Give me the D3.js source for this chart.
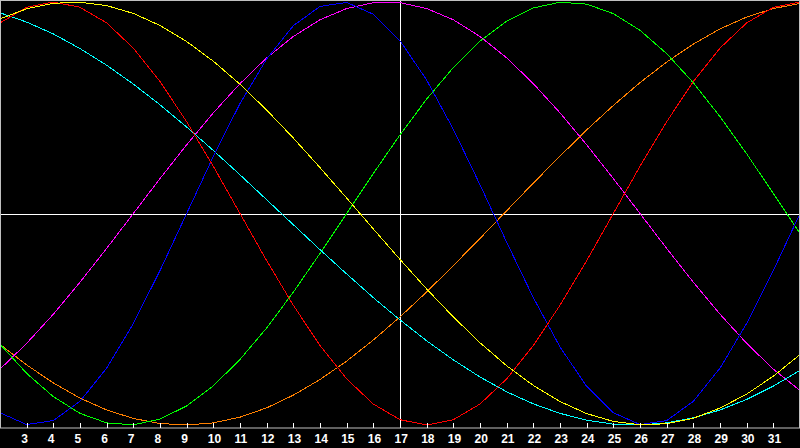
<!DOCTYPE html>
<html>
<head>
<meta charset="utf-8">
<script src="https://cdn.jsdelivr.net/npm/d3@7"></script>
<style>
  html, body { margin: 0; padding: 0; background: #000; }
  svg { display: block; }
</style>
</head>
<body>
<div id="chart"></div>
<script>
// day of month for each sample
const days = [2, 3, 4, 5, 6, 7, 8, 9, 10, 11, 12, 13, 14, 15, 16, 17, 18, 19, 20, 21, 22, 23, 24, 25, 26, 27, 28, 29, 30, 31, 32];
const tickDays = [3, 4, 5, 6, 7, 8, 9, 10, 11, 12, 13, 14, 15, 16, 17, 18, 19, 20, 21, 22, 23, 24, 25, 26, 27, 28, 29, 30, 31];

// curve values (-1 .. 1)
const blueValues = [-0.942, -0.998, -0.979, -0.888, -0.731, -0.520, -0.270, 0, 0.270, 0.520, 0.731, 0.888, 0.979, 0.998, 0.942, 0.817, 0.631, 0.398, 0.136, -0.136, -0.398, -0.631, -0.817, -0.942, -0.998, -0.979, -0.888, -0.731, -0.520, -0.270, 0];
const redValues = [0.901, 0.975, 1, 0.975, 0.901, 0.782, 0.624, 0.434, 0.223, 0, -0.223, -0.434, -0.624, -0.782, -0.901, -0.975, -1, -0.975, -0.901, -0.782, -0.624, -0.434, -0.223, 0, 0.223, 0.434, 0.624, 0.782, 0.901, 0.975, 1];
const cyanValues = [0.949, 0.905, 0.849, 0.780, 0.701, 0.612, 0.514, 0.409, 0.298, 0.183, 0.065, -0.053, -0.171, -0.286, -0.398, -0.503, -0.602, -0.692, -0.773, -0.843, -0.900, -0.945, -0.977, -0.996, -1.000, -0.990, -0.966, -0.929, -0.879, -0.816, -0.742];
const magentaValues = [-0.736, -0.614, -0.476, -0.325, -0.165, 0, 0.165, 0.325, 0.476, 0.614, 0.736, 0.837, 0.916, 0.969, 0.997, 0.997, 0.969, 0.916, 0.837, 0.736, 0.614, 0.476, 0.325, 0.165, 0, -0.165, -0.325, -0.476, -0.614, -0.736, -0.837];
const greenValues = [-0.618, -0.756, -0.866, -0.945, -0.990, -0.999, -0.972, -0.910, -0.815, -0.690, -0.541, -0.372, -0.189, 0, 0.189, 0.372, 0.541, 0.690, 0.815, 0.910, 0.972, 0.999, 0.990, 0.945, 0.866, 0.756, 0.618, 0.458, 0.282, 0.095, -0.095];
const yellowValues = [0.920, 0.968, 0.994, 0.999, 0.983, 0.946, 0.889, 0.813, 0.720, 0.611, 0.489, 0.357, 0.217, 0.073, -0.073, -0.217, -0.357, -0.489, -0.611, -0.720, -0.813, -0.889, -0.946, -0.983, -0.999, -0.994, -0.968, -0.920, -0.854, -0.769, -0.667];
const orangeValues = [-0.619, -0.716, -0.801, -0.873, -0.929, -0.969, -0.993, -1.000, -0.990, -0.963, -0.919, -0.859, -0.785, -0.698, -0.598, -0.489, -0.371, -0.246, -0.118, 0.013, 0.144, 0.271, 0.395, 0.511, 0.619, 0.716, 0.801, 0.873, 0.929, 0.969, 0.993];

const seriesNames = ["orange", "magenta", "green", "cyan", "blue", "red", "yellow"];
const seriesColors = ["#ff8000", "#ff00ff", "#00ff00", "#00ffff", "#0000ff", "#ff0000", "#ffff00"];
const seriesValues = [orangeValues, magentaValues, greenValues, cyanValues, blueValues, redValues, yellowValues];

const W = 800, H = 448, plotH = 428;

const svg = d3.select("#chart").append("svg")
  .attr("width", W)
  .attr("height", H);

svg.append("rect").attr("width", W).attr("height", H).attr("fill", "#000");

const x = d3.scaleLinear().domain([2, 32]).range([0, W]);
const y = d3.scaleLinear().domain([-1, 1]).range([425, 2]);

// crosshair
svg.append("line")
  .attr("x1", 0).attr("x2", W)
  .attr("y1", plotH / 2 + 0.5).attr("y2", plotH / 2 + 0.5)
  .attr("stroke", "#fff").attr("stroke-width", 1);
svg.append("line")
  .attr("x1", x(17) + 0.5).attr("x2", x(17) + 0.5)
  .attr("y1", 0).attr("y2", plotH)
  .attr("stroke", "#fff").attr("stroke-width", 1);

const line = d3.line()
  .x((d, i) => x(days[i]))
  .y(d => y(d));

svg.append("g")
  .selectAll("path")
  .data(seriesValues)
  .join("path")
  .attr("d", line)
  .attr("fill", "none")
  .attr("stroke", (d, i) => seriesColors[i])
  .attr("stroke-width", 1)
  .attr("shape-rendering", "crispEdges");

// frame
svg.append("rect")
  .attr("x", 0.5).attr("y", 0.5)
  .attr("width", W - 1).attr("height", plotH - 0.5)
  .attr("fill", "none")
  .attr("stroke", "#c0c0c0")
  .attr("stroke-width", 1);

// x axis
const axis = svg.append("g")
  .attr("transform", `translate(0,${plotH})`)
  .call(d3.axisBottom(x).tickValues(tickDays).tickSize(-5).tickFormat(d3.format("d")));
axis.select(".domain").remove();
axis.selectAll(".tick line")
  .attr("stroke", "#fff")
  .attr("shape-rendering", "crispEdges");
axis.selectAll(".tick text")
  .attr("fill", "#fff")
  .attr("text-anchor", "start")
  .attr("x", -6)
  .attr("dy", "0")
  .attr("y", 15)
  .style("font-family", "'Liberation Sans', Arial, sans-serif")
  .style("font-size", "12px")
  .style("font-weight", "bold");
</script>
</body>
</html>
